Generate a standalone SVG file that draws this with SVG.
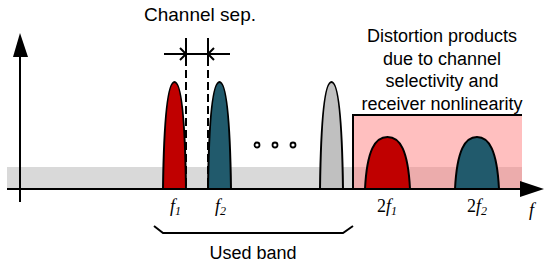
<svg xmlns="http://www.w3.org/2000/svg" width="550" height="265" viewBox="0 0 550 265">
<defs>
<style>
.t{font-family:"Liberation Sans",Arial,sans-serif;font-size:18px;fill:#000}
.big{font-size:19px}
.m{font-family:"Liberation Serif","Times New Roman",serif;font-style:italic;font-size:18px;fill:#000}
.s{font-size:12px}
.ax{stroke:#000;stroke-width:2;fill:none}
.pk{stroke:#000;stroke-width:2}
.red{fill:#C00000}
.teal{fill:#215A6C}
.grey{fill:#C0C0C0}
</style>
</defs>
<g id="background">
<rect x="7" y="167" width="515" height="22" fill="#D9D9D9"/>
<rect x="353" y="115" width="169" height="74" fill="#FF8080" fill-opacity="0.5"/>
<path d="M353,189 V115 H522" stroke="#000" stroke-width="2" fill="none"/>
</g>
<g id="axes">
<line class="ax" x1="20" y1="55" x2="20" y2="202"/>
<polygon points="20,33 13,57 28,57" fill="#000"/>
<line class="ax" x1="7" y1="189" x2="522" y2="189"/>
<polygon points="544,189 520,181 520,197" fill="#000"/>
</g>
<g id="peak-f1"><path class="pk red" d="M163,189 C164,115 168,82 174.5,82 C181,82 185,115 186,189 Z"/></g>
<g id="peak-f2"><path class="pk teal" d="M208,189 C209,115 213,82 219.5,82 C226,82 230,115 231,189 Z"/></g>
<g id="peak-n"><path class="pk grey" d="M320,189 C321,115 325,82 331.5,82 C338,82 342,115 343,189 Z"/></g>
<g id="peak-2f1"><path class="pk red" d="M365,189 C367,150 375,137 387.5,137 C400,137 408,150 410,189 Z"/></g>
<g id="peak-2f2"><path class="pk teal" d="M455,189 C457,150 465,137 477,137 C489,137 497,150 499,189 Z"/></g>
<g id="dots" fill="#fff" stroke="#000" stroke-width="1.8">
<circle cx="257" cy="145" r="2.5"/>
<circle cx="275" cy="145" r="2.5"/>
<circle cx="293" cy="145" r="2.5"/>
</g>
<g id="connectors">
<line x1="186" y1="38" x2="186" y2="58" stroke="#000" stroke-width="2"/>
<line x1="208" y1="38" x2="208" y2="58" stroke="#000" stroke-width="2"/>
<line x1="186" y1="58" x2="186" y2="189" stroke="#000" stroke-width="2" stroke-dasharray="8,4"/>
<line x1="208" y1="58" x2="208" y2="189" stroke="#000" stroke-width="2" stroke-dasharray="8,4"/>
<line x1="164" y1="54" x2="230" y2="54" stroke="#000" stroke-width="2"/>
<path d="M180,48 L186,54 L180,60" stroke="#000" stroke-width="2" fill="none"/>
<path d="M214,48 L208,54 L214,60" stroke="#000" stroke-width="2" fill="none"/>
<path d="M154,226 L163,233 H343 L353,226" stroke="#000" stroke-width="2" fill="none"/>
</g>
<g id="labels">
<text class="t big" x="200" y="21" text-anchor="middle">Channel sep.</text>
<text class="t" x="253" y="259" text-anchor="middle">Used band</text>
<text class="t" text-anchor="middle"><tspan x="442" y="42">Distortion products</tspan><tspan x="442" y="65">due to channel</tspan><tspan x="442" y="87">selectivity and</tspan><tspan x="442" y="110">receiver nonlinearity</tspan></text>
<text class="m" x="170" y="212">f<tspan class="s" dy="3">1</tspan></text>
<text class="m" x="215" y="212">f<tspan class="s" dy="3">2</tspan></text>
<text class="m" x="377" y="212"><tspan font-style="normal">2</tspan>f<tspan class="s" dy="3">1</tspan></text>
<text class="m" x="467" y="212"><tspan font-style="normal">2</tspan>f<tspan class="s" dy="3">2</tspan></text>
<text class="m" x="529" y="216">f</text>
</g>
</svg>
